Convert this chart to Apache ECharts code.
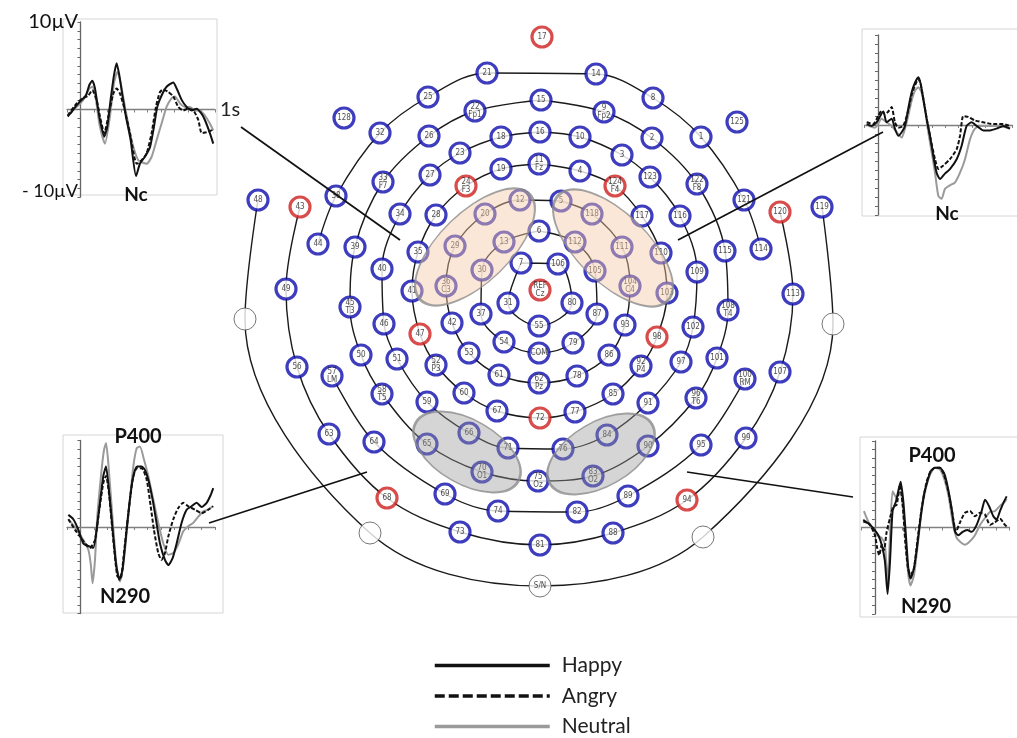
<!DOCTYPE html>
<html><head><meta charset="utf-8">
<script src="https://cdn.jsdelivr.net/npm/echarts@6/dist/echarts.min.js"></script>
<style>html,body{margin:0;padding:0;background:#fff}#c{width:1017px;height:738px}</style>
</head><body><div id="c"></div>
<script>
// ---------- Montage data (coordinates relative to Cz, y up) ----------
const electrodeNames = ['1','2','3','4','5','6','7','8','9','10','11','12','13','14','15','16','17','18','19','20','21','22','23','24','25','26','27','28','29','30','31','32','33','34','35','36','37','38','39','40','41','42','43','44','45','46','47','48','49','50','51','52','53','54','55','56','57','58','59','60','61','62','63','64','65','66','67','68','69','70','71','72','73','74','75','76','77','78','79','80','81','82','83','84','85','86','87','88','89','90','91','92','93','94','95','96','97','98','99','100','101','102','103','104','105','106','107','108','109','110','111','112','113','114','115','116','117','118','119','120','121','122','123','124','125','128','REF','COM'];
const electrodeX = [161,112,82,40,21,-1,-19,113,64,40,-1,-20,-36,56,1,0,2,-39,-39,-55,-53,-65,-80,-74,-112,-111,-110,-104,-85,-58,-32,-160,-157,-140,-122,-94,-59,-204,-185,-158,-128,-88,-240,-222,-190,-156,-120,-282,-254,-179,-143,-104,-71,-36,-1,-243,-208,-158,-113,-76,-41,-1,-211,-166,-113,-71,-43,-153,-95,-58,-32,0,-80,-42,-2,23,35,37,33,32,0,37,53,67,73,69,57,73,88,108,108,101,85,147,161,156,141,117,206,205,177,153,127,90,55,18,240,188,157,121,82,35,253,221,185,140,102,52,282,240,204,157,110,75,197,-196,0,-1];
const electrodeY = [153,152,135,119,89,59,27,192,178,153,126,90,48,216,190,158,253,153,121,76,217,179,137,104,193,154,115,75,44,20,-13,157,108,76,38,4,-24,94,43,21,-1,-33,83,46,-17,-34,-44,90,1,-65,-69,-75,-63,-52,-36,-77,-86,-104,-112,-103,-85,-93,-144,-152,-154,-143,-121,-208,-204,-182,-158,-128,-242,-221,-191,-159,-122,-86,-53,-13,-255,-222,-186,-145,-104,-65,-24,-243,-206,-156,-113,-76,-35,-210,-155,-108,-72,-47,-148,-89,-68,-37,-3,4,19,26,-82,-20,18,37,43,48,-4,41,39,74,74,76,83,78,90,106,113,104,168,172,0,-63];
const tenTwentyNames = {'9':'Fp2','11':'Fz','22':'Fp1','24':'F3','33':'F7','36':'C3','45':'T3','52':'P3','57':'LM','58':'T5','62':'Pz','70':'O1','75':'Oz','83':'O2','92':'P4','96':'T6','100':'RM','104':'C4','108':'T4','122':'F8','124':'F4','REF':'Cz'};
const redElectrodes = ['17','43','24','124','120','REF','47','98','72','68','94'];
const landmarkNames = ['WL','WR','WBL','WBR','S/N'];
const landmarkX = [-295,293,-170,163,0];
const landmarkY = [-29,-34,-243,-247,-296];

// rings (sequences of electrodes joined by the montage lines)
const ringA = ['7','106','80','55','31','7'];
const ringB = ['6','112','105','87','79','COM','54','37','30','13','6'];
const ringC = ['5','118','111','104','93','86','78','62','61','53','42','36','29','20','12','5'];
const ringD = ['11','4','124','117','110','103','98','92','85','77','72','67','60','52','47','41','35','28','24','19','11'];
const ringE = ['16','10','3','123','116','109','102','97','91','84','76','71','66','59','51','46','40','34','27','23','18','16'];
const ringF = ['15','9','2','122','115','108','101','96','90','83','75','70','65','58','50','45','39','33','26','22','15'];
const ringG1 = ['114','121','1','8','14','21','25','32','38','44'];
const ringG2 = ['57','64','69','74','82','89','95','100'];
const ringH = ['43','49','56','63','68','73','81','88','94','99','107','113','120'];
const ringI = ['48','WL','WBL','S/N','WBR','WR','119'];

// regions of interest (centres)
const regionNames = ['frontal-left','frontal-right','occipital-left','occipital-right'];
const regionX = [-65,73,-73,61];
const regionY = [43,42,-162,-164];

// leader lines from montage to ERP insets
const leaderFrom = [[-299,163],[343,158],[-331,-233],[313,-207]];
const leaderTo = [[-140,50],[138,50],[-173,-182],[147,-182]];

// ---------- ERP waveforms: [time ms, amplitude µV] ----------
const tlHappy = [[-95,-0.8],[-66,-0.3],[-28,0.5],[9,1.1],[41,1.6],[66,2.8],[88,3.3],[107,2.5],[125,0.7],[145,-1.2],[177,-3.1],[199,-2.0],[224,1.1],[249,3.9],[269,5.3],[289,3.9],[313,1.5],[338,-0.8],[373,-3.5],[413,-7.6],[442,-6.2],[479,-5.4],[517,-4.3],[546,-2.0],[571,0.3],[603,1.6],[640,2.6],[690,3.1],[715,2.4],[752,1.1],[789,0.3],[826,-0.1],[864,0.1],[901,-0.5],[925,-1.2],[962,-2.7],[987,-3.9]];
const tlAngry = [[-95,-0.7],[-28,0.7],[21,1.3],[58,1.6],[88,2.2],[120,1.1],[145,-0.8],[177,-2.7],[207,-0.8],[244,1.8],[269,2.4],[294,1.8],[323,0.3],[368,-2.7],[418,-6.2],[455,-5.8],[492,-5.0],[529,-2.7],[561,0.3],[591,2.0],[616,2.3],[653,2.0],[690,1.5],[727,0.3],[764,-0.1],[801,0.1],[839,-0.1],[876,-1.2],[901,-2.7],[938,-2.6],[975,-2.4],[987,-2.7]];
const tlNeutral = [[-90,-0.5],[-28,0.3],[21,1.1],[66,2.4],[90,2.6],[115,1.1],[140,-1.6],[182,-3.9],[219,-0.8],[249,3.0],[274,4.3],[299,3.0],[331,0.3],[380,-3.5],[430,-5.8],[492,-6.2],[529,-5.4],[566,-3.5],[603,-1.6],[640,0.3],[678,1.3],[702,1.5],[740,0.7],[777,0.3],[814,0.3],[851,-0.1],[888,-0.1],[925,-0.7],[962,-1.6],[987,-2.4]];

const trHappy = [[-84,0.1],[-47,-0.1],[-10,0.3],[40,1.5],[64,0.3],[102,0.7],[126,-0.4],[151,-1.2],[176,-0.8],[201,-0.1],[225,1.8],[250,3.6],[275,4.7],[300,5.3],[317,4.6],[337,2.9],[362,0.7],[387,-1.2],[411,-3.4],[436,-5.3],[461,-6.0],[498,-5.4],[535,-4.9],[585,-3.8],[622,-2.3],[659,-0.1],[696,0.3],[733,-0.1],[783,-0.6],[833,-0.6],[882,-0.4],[932,-0.1],[981,-0.4]];
const trAngry = [[-84,0.3],[-35,0.1],[2,1.0],[27,1.6],[52,1.2],[77,1.5],[102,2.0],[126,0.3],[151,-0.3],[188,-0.1],[225,1.6],[250,3.3],[275,4.4],[300,5.1],[317,4.6],[342,2.5],[367,0.3],[392,-1.6],[424,-3.8],[449,-4.9],[486,-4.5],[535,-3.8],[585,-2.7],[610,-1.2],[634,1.0],[672,0.9],[721,0.5],[783,0.3],[857,0.1],[932,0.1],[981,-0.1]];
const trNeutral = [[-72,-0.1],[-22,-0.3],[27,0.7],[64,0.3],[102,-0.1],[139,-0.8],[176,-1.4],[201,-0.4],[225,1.0],[250,2.7],[275,3.8],[300,4.2],[325,3.6],[349,1.8],[374,-0.8],[399,-3.0],[424,-5.3],[449,-7.9],[473,-8.2],[498,-7.1],[535,-6.7],[572,-6.4],[610,-5.3],[647,-3.8],[684,-1.6],[721,-0.4],[770,-0.1],[833,-0.1],[907,-0.1],[981,-0.4]];

const blHappy = [[-90,1.4],[-53,0.9],[-16,-0.3],[21,-1.9],[58,-2.2],[95,-2.4],[120,-0.3],[145,2.8],[170,5.9],[190,7.0],[214,3.9],[239,-0.3],[264,-4.2],[289,-6.1],[313,-4.9],[343,-0.3],[373,3.9],[398,6.2],[422,7.0],[455,7.0],[479,6.6],[504,5.5],[536,3.2],[561,0.9],[591,-1.9],[628,-3.8],[653,-4.4],[685,-3.6],[715,-1.9],[752,0.5],[789,2.0],[826,2.4],[864,2.8],[901,2.3],[938,2.8],[968,3.7],[987,4.5]];
const blAngry = [[-90,0.9],[-41,-0.3],[-4,-1.1],[34,-1.9],[71,-2.4],[108,-1.5],[140,2.0],[170,5.1],[190,5.9],[214,3.6],[244,-1.5],[274,-5.7],[299,-5.9],[323,-3.0],[356,1.6],[388,5.5],[418,6.8],[455,6.8],[492,5.5],[522,2.4],[546,-0.3],[578,-3.0],[603,-3.8],[628,-3.0],[653,-1.1],[690,0.9],[727,2.2],[764,2.8],[801,2.4],[851,2.0],[901,1.6],[950,2.0],[987,2.4]];
const blNeutral = [[-90,0.9],[-28,-0.3],[21,-1.5],[58,-2.6],[76,-4.2],[90,-6.5],[108,-3.8],[125,1.2],[157,6.6],[175,8.9],[190,9.7],[207,7.4],[239,0.9],[269,-4.6],[294,-6.3],[323,-3.8],[363,2.4],[393,7.0],[418,9.1],[442,9.3],[472,7.8],[504,5.9],[541,3.2],[578,0.5],[616,-1.9],[653,-3.2],[690,-3.0],[727,-2.0],[764,-0.5],[801,0.1],[839,0.5],[876,1.2],[913,1.8],[950,2.0],[982,2.4]];

const brHappy = [[-87,0.7],[-50,0.5],[-12,-0.1],[25,-0.9],[50,-2.0],[74,-3.9],[94,-7.7],[112,-3.9],[131,1.9],[156,3.0],[191,5.3],[211,3.0],[230,-0.9],[248,-4.7],[265,-5.9],[290,-4.7],[315,-2.0],[339,1.1],[364,3.8],[389,5.3],[414,6.5],[446,6.9],[483,6.9],[513,6.3],[538,4.9],[570,2.2],[595,-0.5],[620,-0.9],[652,-0.5],[686,-0.3],[719,-0.5],[756,0.3],[793,1.9],[818,3.2],[850,2.4],[880,1.3],[904,0.9],[929,1.9],[959,3.0],[979,3.6]];
const brAngry = [[-87,0.9],[-37,0.3],[0,-0.9],[17,-2.4],[32,-3.2],[50,-2.0],[67,-2.6],[87,-0.5],[112,1.1],[136,2.4],[161,2.6],[186,4.9],[206,2.6],[225,-1.6],[245,-4.7],[265,-5.5],[290,-4.7],[315,-1.6],[347,2.2],[384,5.3],[414,6.5],[446,6.9],[483,6.9],[513,6.1],[545,4.2],[577,1.5],[602,-0.5],[632,0.6],[669,1.7],[706,1.9],[743,1.3],[781,1.7],[818,1.5],[855,0.3],[892,0.6],[929,1.0],[966,0.3],[979,0.1]];
const brNeutral = [[-82,1.9],[-50,0.7],[-12,-0.3],[17,-0.9],[50,-1.2],[74,-2.0],[94,-6.4],[112,-0.9],[131,4.2],[161,3.4],[186,4.2],[211,1.9],[230,-2.0],[248,-5.5],[265,-6.7],[290,-5.5],[315,-2.4],[347,1.9],[379,4.6],[409,6.1],[446,6.9],[483,6.7],[513,5.7],[545,3.8],[577,0.7],[607,-1.2],[637,-1.7],[669,-2.0],[706,-1.6],[743,-0.9],[781,0.3],[818,1.1],[855,1.8],[892,1.9],[929,2.5],[966,3.0],[979,3.3]];

const conditions = ['Happy','Angry','Neutral'];

// ---------- build chart ----------
const chart = echarts.init(document.getElementById('c'));
const pos = {};
electrodeNames.forEach((n,i)=>{pos[n]=[electrodeX[i],electrodeY[i]];});
landmarkNames.forEach((n,i)=>{pos[n]=[landmarkX[i],landmarkY[i]];});

const series = [];
[ringA,ringB,ringC,ringD,ringE,ringF,ringG1,ringG2,ringH,ringI].forEach(r=>{
  series.push({type:'line', xAxisIndex:0, yAxisIndex:0, data:r.map(id=>pos[id]), smooth:0.35,
    symbol:'none', silent:true, z:1, lineStyle:{color:'#1a1a1a', width:1.4}});
});
const labelFont = '"Liberation Sans Narrow","DejaVu Sans Condensed","Arial Narrow",sans-serif';
series.push({type:'scatter', xAxisIndex:0, yAxisIndex:0, z:3, silent:true,
  symbol:'circle', symbolSize:20,
  itemStyle:{color:'#fff', borderWidth:3.2},
  label:{show:true, position:'inside', color:'#222', fontSize:8, lineHeight:8.5, fontFamily:labelFont,
    formatter:p=> tenTwentyNames[p.name] ? p.name+'\n'+tenTwentyNames[p.name] : p.name},
  data:electrodeNames.map((n,i)=>({name:n, value:[electrodeX[i],electrodeY[i]],
    itemStyle:{borderColor: redElectrodes.includes(n)?'#cf1f1f':'#0d0dae'}}))
});
series.push({type:'scatter', xAxisIndex:0, yAxisIndex:0, z:3, silent:true,
  symbol:'circle', symbolSize:22,
  itemStyle:{color:'#fff', borderColor:'#555', borderWidth:1},
  label:{show:true, position:'inside', color:'#222', fontSize:8, fontFamily:labelFont,
    formatter:p=> p.name==='S/N' ? 'S/N' : ''},
  data:landmarkNames.map((n,i)=>({name:n, value:[landmarkX[i],landmarkY[i]]}))
});
const regionSize = [[152,70],[152,70],[118,64],[118,64]];
const regionRot = [44,-44,-30,30];
const regionFill = ['rgba(245,200,165,0.55)','rgba(245,200,165,0.55)','rgba(150,150,150,0.5)','rgba(150,150,150,0.5)'];
series.push({type:'scatter', xAxisIndex:0, yAxisIndex:0, z:4, silent:true, symbol:'circle',
  data:regionNames.map((n,i)=>({name:n, value:[regionX[i],regionY[i]], symbolSize:regionSize[i], symbolRotate:regionRot[i],
    itemStyle:{color:regionFill[i], borderColor:'#8c8c8c', borderWidth:2}}))
});
leaderFrom.forEach((a,i)=>{
  series.push({type:'line', xAxisIndex:0, yAxisIndex:0, data:[a,leaderTo[i]], symbol:'none', silent:true, z:6,
    lineStyle:{color:'#111', width:1.7}});
});

const insets = [
  [tlHappy,tlAngry,tlNeutral],
  [trHappy,trAngry,trNeutral],
  [blHappy,blAngry,blNeutral],
  [brHappy,brAngry,brNeutral]
];
const condStyle = {
  Happy:{color:'#111', width:2, type:'solid'},
  Angry:{color:'#111', width:2, type:[4,2]},
  Neutral:{color:'#9a9a9a', width:2, type:'solid'}
};
const noMark = 'rgba(0,0,0,0)';
insets.forEach((set,k)=>{
  [2,1,0].forEach(c=>{
    const name = conditions[c];
    series.push({type:'line', name, xAxisIndex:k+1, yAxisIndex:k+1, data:set[c], symbol:'none',
      smooth:0.2, silent:true, z:5, itemStyle:{color:noMark, borderColor:noMark},
      lineStyle:Object.assign({}, condStyle[name])});
  });
});

const grids = [
  {left:0, top:0, width:1017, height:738},
  {left:67, top:22, width:148, height:175},
  {left:864.5, top:35, width:148, height:180},
  {left:67, top:440.5, width:148, height:173},
  {left:861.5, top:441, width:148, height:173}
];
const xAxes = [{type:'value', gridIndex:0, min:-540, max:477, show:false}];
const yAxes = [{type:'value', gridIndex:0, min:-448, max:290, show:false}];
for (let k=1;k<=4;k++){
  xAxes.push({type:'value', gridIndex:k, min:-100, max:1000, interval:100,
    name: k===1 ? '1s' : '', nameLocation:'end', nameGap:5,
    nameTextStyle:{fontSize:20, color:'#222', fontFamily:'Lato'},
    axisLine:{onZero:true, lineStyle:{color:'#808080', width:1.3}},
    axisTick:{show:true, length:3, lineStyle:{color:'#808080'}},
    axisLabel:{show:false}, splitLine:{show:false}});
  yAxes.push({type:'value', gridIndex:k, min:-10, max:10, interval:1,
    axisLine:{show:true, onZero:true, lineStyle:{color:'#666', width:1.3}},
    axisTick:{show:true, length:3, lineStyle:{color:'#666'}},
    axisLabel:{show:false}, splitLine:{show:false}});
}

const frame = (x,y,w,h)=>({type:'rect', shape:{x,y,width:w,height:h}, z:0, silent:true,
  style:{fill:'none', stroke:'#d6d6d6', lineWidth:1}});
const txt = (t,x,y,font,align)=>({type:'text', x, y, z:50, silent:true,
  style:{text:t, font, fill:'#111', align:align||'center', verticalAlign:'middle'}});

chart.setOption({
  animation:false,
  backgroundColor:'#fff',
  grid:grids, xAxis:xAxes, yAxis:yAxes,
  legend:{orient:'vertical', left:433, top:655, padding:0, itemWidth:115, itemHeight:20, itemGap:9.5,
    selectedMode:false, height:84,
    itemStyle:{color:noMark, borderColor:noMark, borderWidth:0, opacity:0},
    textStyle:{fontSize:21, lineHeight:20, color:'#222', fontFamily:'Lato', padding:[0,0,0,7]},
    data:[
      {name:'Happy', lineStyle:{width:3.5, type:'solid'}},
      {name:'Angry', lineStyle:{width:3.5, type:[10,4]}},
      {name:'Neutral', lineStyle:{width:3.5, type:'solid'}}
    ]},
  graphic:[
    frame(63,19,154,176), frame(862,29,160,187), frame(63,435,160,178), frame(860,437,160,180),
    txt('10µV',78,22,'20px Lato','right'),
    txt('- 10µV',78,191,'18px Lato','right'),
    txt('Nc',136,195,'bold 19px Lato'),
    txt('Nc',947,214,'bold 19px Lato'),
    txt('P400',138,437,'bold 20px Lato'),
    txt('N290',125,597,'bold 20px Lato'),
    txt('P400',932,456,'bold 20px Lato'),
    txt('N290',926,607,'bold 20px Lato')
  ],
  series
});
</script>
</body></html>
